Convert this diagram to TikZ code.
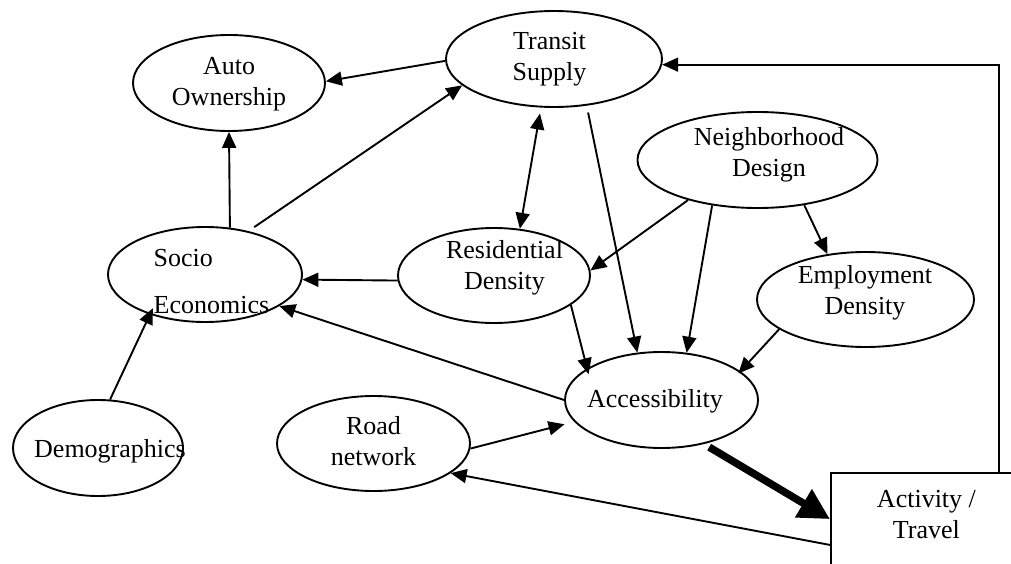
\documentclass[tikz,border=0pt]{standalone}
\usepackage{fontspec}
\setmainfont{Liberation Serif}
\usetikzlibrary{arrows.meta,shapes.geometric}

\begin{document}
\begin{tikzpicture}[x=1pt,y=-1pt,
  every node/.style={font=\fontsize{26}{31}\selectfont},
  bubble/.style={draw, ellipse, line width=1.9pt, inner sep=0pt},
  lbl/.style={align=center, inner sep=0pt},
  flow/.style={line width=1.9pt, -{Triangle[length=16pt,width=14pt]}},
  twoway/.style={line width=1.9pt, {Triangle[length=16pt,width=14pt]}-{Triangle[length=16pt,width=14pt]}},
  mainflow/.style={line width=7.5pt, -{Triangle[length=31pt,width=31pt]}}]

\useasboundingbox (0,0) rectangle (1011,564);
\clip (0,0) rectangle (1011,564);

% factors
\node[bubble, minimum width=192pt, minimum height=96pt,
      label={[lbl,shift={(0,1.5)}]center:{Auto\\Ownership}}] (auto) at (229,83) {};
\node[bubble, minimum width=216pt, minimum height=96pt,
      label={[lbl,shift={(-4.5,0.5)}]center:{Transit\\Supply}}] (transit) at (554,59) {};
\node[bubble, minimum width=194pt, minimum height=95pt,
      label={[lbl,align=left,shift={(6.5,6.8)}]center:{Socio\\[16pt]Economics}}] (socio) at (205,274.5) {};
\node[bubble, minimum width=192pt, minimum height=95pt,
      label={[lbl,shift={(10.5,-8)}]center:{Residential\\Density}}] (resid) at (494,275.5) {};
\node[bubble, minimum width=240pt, minimum height=96pt,
      label={[lbl,shift={(11.5,-5.5)}]center:{Neighborhood\\Design}}] (neigh) at (757.5,160) {};
\node[bubble, minimum width=217pt, minimum height=95pt,
      label={[lbl,shift={(-0.5,-7)}]center:{Employment\\Density}}] (employ) at (865.5,299.5) {};
\node[bubble, minimum width=193pt, minimum height=96pt,
      label={[lbl,shift={(-6.5,1.5)}]center:{Accessibility}}] (access) at (661.5,400) {};
\node[bubble, minimum width=170pt, minimum height=96pt,
      label={[lbl,shift={(12,3)}]center:{Demographics}}] (demog) at (98,448) {};
\node[bubble, minimum width=193pt, minimum height=95pt,
      label={[lbl,shift={(0,-2.5)}]center:{Road\\network}}] (road) at (373.5,443.5) {};

% outcome box
\node[draw, line width=1.9pt, rectangle, inner sep=0pt, anchor=north west] (act) at (830,472)
  {\parbox[c][144pt][t]{191pt}{\centering\rule{0pt}{34.5pt}Activity /\\Travel}};

% influences
\draw[flow] (transit.181) -- (auto.1);
\draw[flow] (socio.62) -- (auto.south);
\draw[flow, shorten <=7pt] (socio.45) -- (transit.196);
\draw[twoway, shorten <=6pt] (transit.255) -- (resid.61);
\draw[flow, shorten <=7pt] (transit.305) -- (access.117);
\draw[flow] (neigh.210) -- (resid.3);
\draw[flow] (neigh.225) -- (access.62);
\draw[flow] (neigh.316) -- (employ.130);
\draw[flow] (resid.183) -- (socio.357);
\draw[flow, shorten >=-6pt] (resid.339) -- (access.157);
\draw[flow, shorten >=-3pt] (employ.199) -- (access.20);
\draw[flow] (access.180) -- (socio.337);
\draw[flow, shorten >=-7pt] (demog.76) -- (socio.216);
\draw[flow, shorten >=10pt] (road.357.5) -- (access.194);
\draw[flow] (act.west) -- (road.339);
\draw[mainflow, shorten <=6pt] (access.314) -- (act.165.3);
\draw[flow] (act.45.2) |- (transit.357.7);
\end{tikzpicture}
\end{document}
